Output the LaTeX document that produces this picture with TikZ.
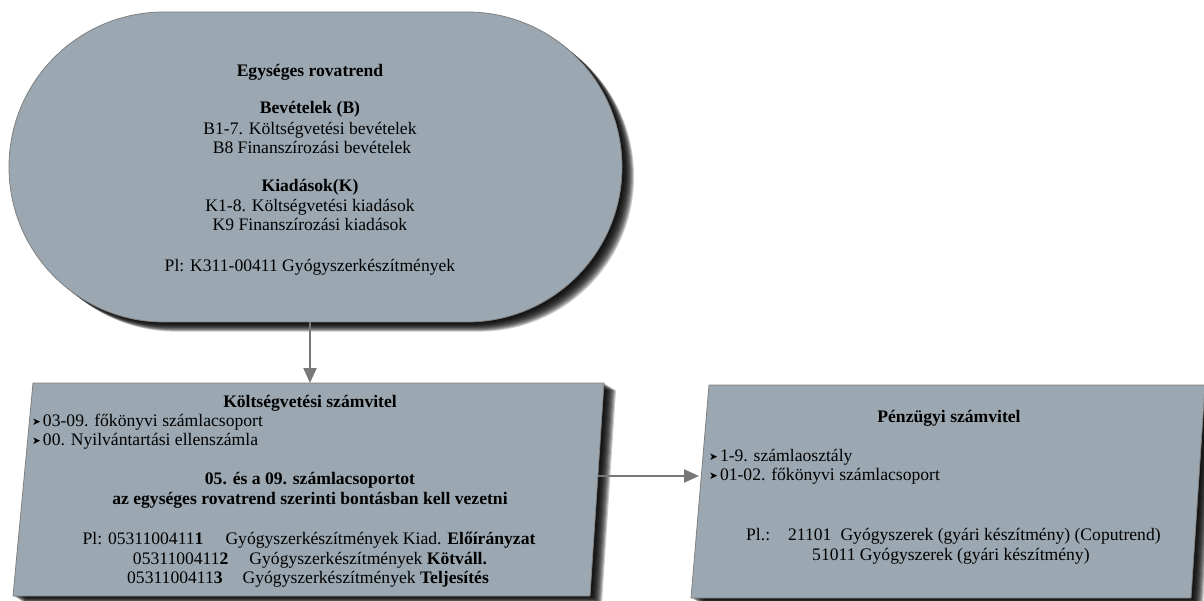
\documentclass[tikz,border=0pt]{standalone}
\usepackage{fontspec}
\setmainfont{Liberation Serif}
\newfontfamily\symfont{DejaVu Sans}
\usetikzlibrary{arrows.meta,calc}

\definecolor{panelfill}{RGB}{155,168,177}
\definecolor{paneledge}{RGB}{128,128,128}
\definecolor{linkgray}{RGB}{120,120,120}

\newcommand{\bul}{{\symfont\fontsize{10.5}{10}\selectfont\raisebox{0.3pt}{➤}}\hspace{2pt}}

\tikzset{
  panel/.style={fill=panelfill, draw=paneledge, line width=0.8pt},
  shadowlayer/.style={fill=black, opacity=0.2},
  txt/.style={inner sep=0pt, anchor=base, font=\fontsize{17.6}{19.5}\selectfont},
  ltxt/.style={txt, anchor=base west},
  link/.style={draw=linkgray, line width=2.2pt,
    -{Triangle[length=15pt,width=13pt]}},
}

\begin{document}
\begin{tikzpicture}[x=1pt,y=-1pt]
\useasboundingbox (0,0) rectangle (1204,601);

% soft drop shadows, built from stacked translucent copies
\foreach \s in {1,...,12}{
  \fill[shadowlayer, rounded corners=154.9pt, shift={(\s,0.8*\s)}] (9,12) rectangle (622,322);
  \fill[shadowlayer, shift={(\s,0.6*\s)}] (33,383) -- (604,383) -- (590,596) -- (13,596) -- cycle;
  \fill[shadowlayer, shift={(\s,0.6*\s)}] (709,385) -- (1205,385) -- (1191,598) -- (691,598) -- cycle;
}

% top element: the chart of accounts as a stadium
\node[panel, rounded corners=154.9pt, minimum width=613pt, minimum height=310pt,
      inner sep=0pt] (rovat) at (315.5,167) {};
\node[txt] (r1) at (310,77)  {\textbf{Egységes rovatrend}};
\node[txt] (r2) at (310,114) {\textbf{Bevételek (B)}};
\node[txt] (r3) at (310,135) {B1-7. Költségvetési bevételek};
\node[txt] (r4) at (312,154) {B8 Finanszírozási bevételek};
\node[txt] (r5) at (310,192) {\textbf{Kiadások(K)}};
\node[txt] (r6) at (310,212) {K1-8. Költségvetési kiadások};
\node[txt] (r7) at (310,231) {K9 Finanszírozási kiadások};
\node[txt] (r8) at (310,272) {Pl: K311-00411 Gyógyszerkészítmények};

% budget accounting panel
\coordinate (ka) at (33,383);
\coordinate (kb) at (604,383);
\coordinate (kc) at (590,596);
\coordinate (kd) at (13,596);
\path[panel] (ka) -- (kb) -- (kc) -- (kd) -- cycle;
\coordinate (kin) at (310,383);
\coordinate (kout) at (598,476);

\node[txt]  (k1) at (310,407) {\textbf{Költségvetési számvitel}};
\node[ltxt] (k2) at (32,426)  {\bul 03-09. főkönyvi számlacsoport};
\node[ltxt] (k3) at (32,445)  {\bul 00. Nyilvántartási ellenszámla};
\node[txt]  (k4) at (310,484) {\textbf{05. és a 09. számlacsoportot}};
\node[txt]  (k5) at (310,504) {\textbf{az egységes rovatrend szerinti bontásban kell vezetni}};
\node[txt]  (k6) at (309,544) {Pl: 0531100411\textbf{1}\hspace{22pt}Gyógyszerkészítmények Kiad. \textbf{Előírányzat}};
\node[txt]  (k7) at (310,564) {0531100411\textbf{2}\hspace{21pt}Gyógyszerkészítmények \textbf{Kötváll.}};
\node[txt]  (k8) at (308,583) {0531100411\textbf{3}\hspace{20pt}Gyógyszerkészítmények \textbf{Teljesítés}};

% financial accounting panel
\coordinate (pa) at (709,385);
\coordinate (pb) at (1205,385);
\coordinate (pc) at (1191,598);
\coordinate (pd) at (691,598);
\path[panel] (pa) -- (pb) -- (pc) -- (pd) -- cycle;
\coordinate (pin) at (699,476);

\node[txt]  (p1) at (949,422) {\textbf{Pénzügyi számvitel}};
\node[ltxt] (p2) at (709,461) {\bul 1-9. számlaosztály};
\node[ltxt] (p3) at (709,480) {\bul 01-02. főkönyvi számlacsoport};
\node[ltxt] (p4) at (746,540) {Pl.:\hspace{18pt}21101\hspace{9pt}Gyógyszerek (gyári készítmény) (Coputrend)};
\node[ltxt] (p5) at (812,560) {51011 Gyógyszerek (gyári készítmény)};

% connectors
\draw[link] (rovat.south -| kin) -- (kin);
\draw[link] (kout) -- (pin);
\end{tikzpicture}
\end{document}
